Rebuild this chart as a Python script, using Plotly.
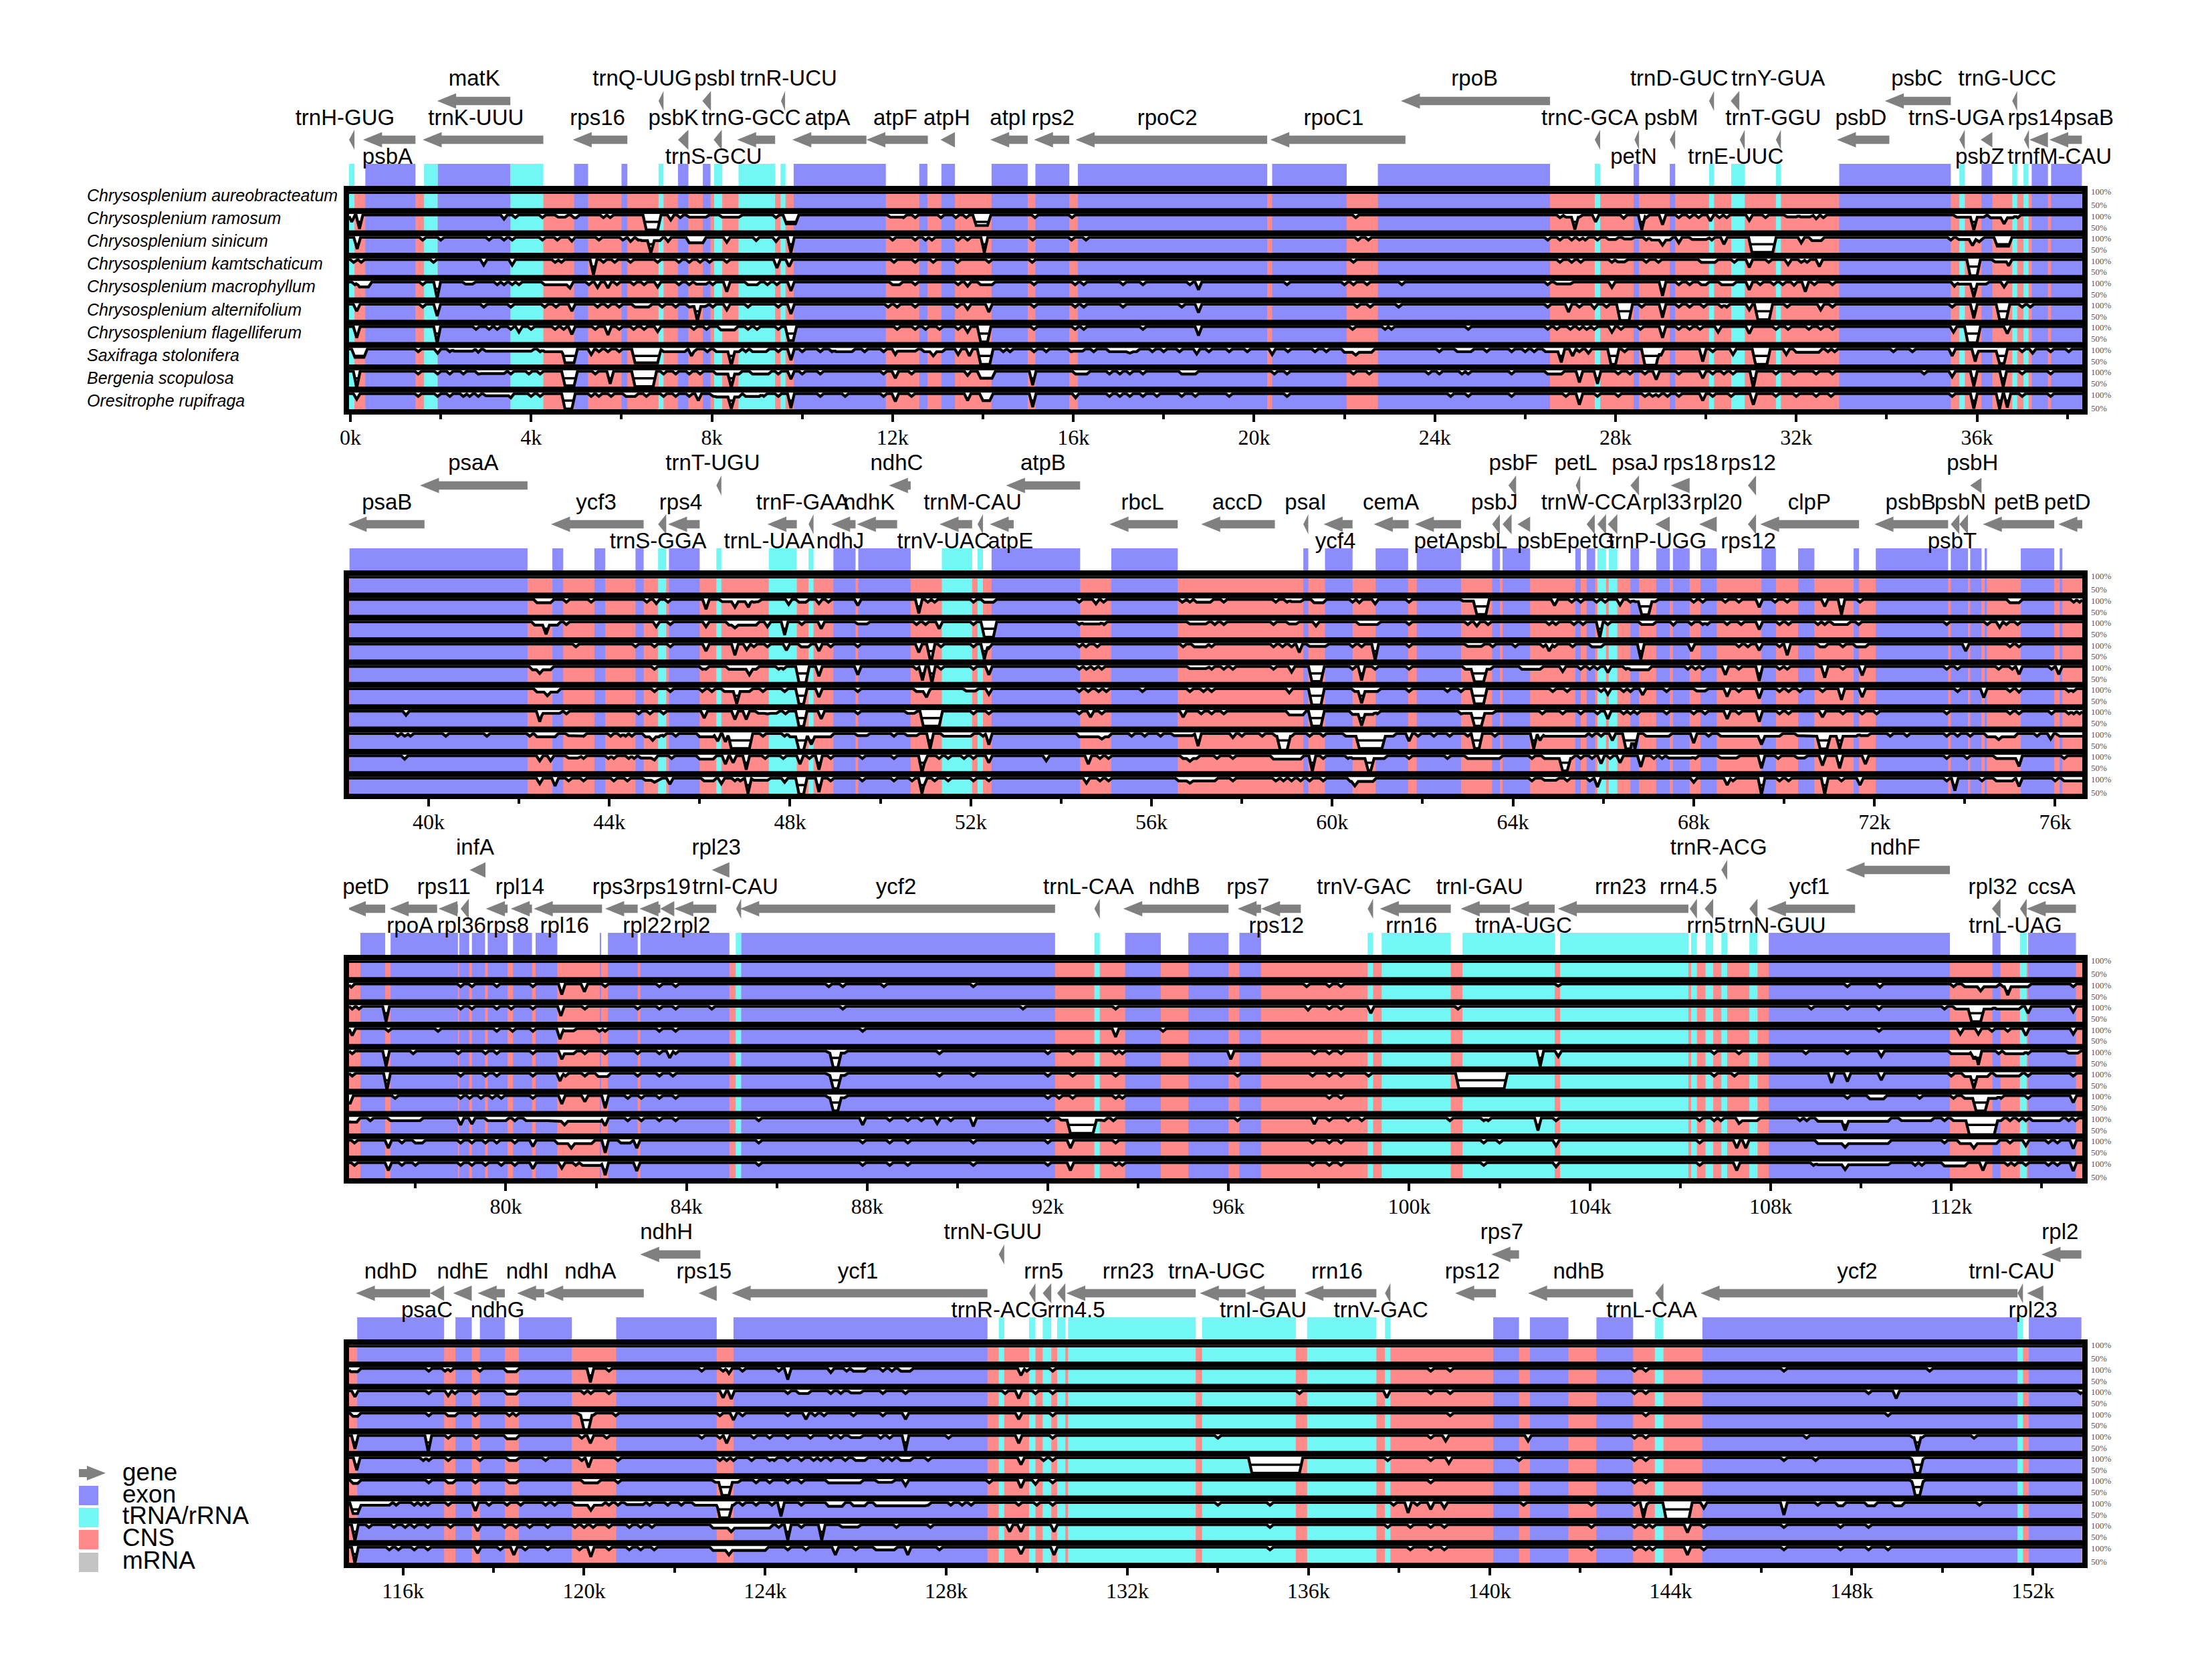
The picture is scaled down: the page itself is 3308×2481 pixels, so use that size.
import numpy as np
import plotly.graph_objects as go

SPECIES = [
    "Chrysosplenium aureobracteatum", "Chrysosplenium ramosum", "Chrysosplenium sinicum",
    "Chrysosplenium kamtschaticum", "Chrysosplenium macrophyllum", "Chrysosplenium alternifolium",
    "Chrysosplenium flagelliferum", "Saxifraga stolonifera", "Bergenia scopulosa", "Oresitrophe rupifraga",
]

# x limits of each panel, kb
P_RANGE = [(-0.03, 38.33), (38.24, 76.6), (76.53, 114.9), (114.81, 153.09)]

MAJOR_TICKS = [list(range(0, 37, 4)), list(range(40, 77, 4)), list(range(80, 113, 4)), list(range(116, 153, 4))]
MINOR_TICKS = [list(range(2, 39, 4)), list(range(42, 75, 4)), list(range(78, 115, 4)), list(range(114, 152, 4))[1:]]

# coding regions (kb)
P1_EXON = [(0.33, 1.44), (1.93, 3.54), (4.95, 5.26), (6.0, 6.13), (7.25, 7.48), (7.8, 7.97), (9.81, 11.85),
           (12.59, 12.77), (13.08, 13.38), (14.19, 14.99), (15.16, 15.91), (16.1, 20.29), (20.4, 22.05),
           (22.74, 26.55), (28.4, 28.52), (29.2, 29.32), (32.95, 35.42), (36.1, 36.34), (37.21, 37.57), (37.64, 38.32)]
P1_RNA = [(-0.03, 0.09), (1.63, 1.93), (3.54, 4.27), (6.82, 6.93), (8.05, 8.23), (8.59, 9.4), (9.52, 9.63),
          (27.54, 27.66), (30.07, 30.18), (30.56, 30.86), (31.55, 31.66), (35.61, 35.73), (36.78, 36.89), (37.03, 37.14)]
P2_EXON = [(38.25, 42.19), (42.74, 42.98), (43.67, 43.91), (44.58, 44.76), (45.32, 46.0), (48.96, 49.45), (49.51, 50.67),
           (52.46, 54.42), (55.11, 56.58), (59.36, 59.47), (59.84, 60.45), (60.96, 61.68), (61.87, 62.85), (63.54, 63.71),
           (63.77, 64.38), (65.38, 65.5), (65.63, 65.82), (66.6, 66.79), (67.17, 67.47), (67.54, 67.91), (68.15, 68.51),
           (69.5, 69.82), (70.31, 70.67), (71.54, 71.66), (72.03, 73.63), (73.69, 74.07), (74.12, 74.37), (74.44, 74.49),
           (75.24, 75.98), (76.1, 76.16)]
P2_RNA = [(45.08, 45.26), (46.37, 46.48), (47.53, 48.15), (48.41, 48.52), (51.36, 52.03), (52.15, 52.27), (65.87, 66.06), (66.12, 66.31)]
P3_EXON = [(76.78, 77.33), (77.45, 78.94), (78.97, 79.19), (79.25, 79.54), (79.6, 80.04), (80.16, 80.58), (80.66, 81.14),
           (82.08, 82.11), (82.26, 82.92), (82.98, 84.95), (85.21, 92.16), (93.71, 94.5), (95.11, 96.0), (96.24, 96.72),
           (107.96, 111.97), (112.91, 113.09), (113.7, 114.76)]
P3_RNA = [(85.09, 85.21), (93.03, 93.15), (99.08, 99.2), (99.39, 100.92), (101.18, 103.22), (103.34, 106.18), (106.24, 106.37),
          (106.56, 106.73), (106.91, 107.04), (107.53, 107.71), (113.52, 113.67)]
P4_EXON = [(114.99, 116.91), (117.16, 117.52), (117.7, 118.25), (118.56, 119.73), (120.71, 122.93), (123.3, 128.91),
           (140.08, 140.65), (140.89, 141.74), (142.36, 143.17), (144.7, 151.66), (151.91, 153.07)]
P4_RNA = [(129.16, 129.28), (129.83, 129.97), (130.13, 130.32), (130.45, 130.63), (130.69, 133.51), (133.65, 135.72),
          (135.97, 137.5), (137.69, 137.81), (143.65, 143.84), (151.66, 151.78)]

# gene arrows: name, start, end (kb)
P1_GENES = [("trnH-GUG", -0.03, 0.09), ("psbA", 0.28, 1.44), ("matK", 1.92, 3.54), ("trnK-UUU", 1.6, 4.27), ("rps16", 4.92, 6.13),
            ("trnQ-UUG", 6.82, 6.93), ("psbK", 7.25, 7.48), ("psbI", 7.79, 7.98), ("trnS-GCU", 8.04, 8.22), ("trnR-UCU", 9.53, 9.62),
            ("trnG-GCC", 8.56, 9.4), ("atpA", 9.78, 11.42), ("atpF", 11.42, 12.78), ("atpH", 13.06, 13.38), ("atpI", 14.16, 14.99),
            ("rps2", 15.13, 15.91), ("rpoC2", 16.05, 20.29), ("rpoC1", 20.36, 23.35), ("rpoB", 23.25, 26.55), ("trnC-GCA", 27.54, 27.66),
            ("petN", 28.42, 28.52), ("psbM", 29.2, 29.32), ("trnD-GUC", 30.07, 30.18), ("trnY-GUA", 30.55, 30.74), ("trnE-UUC", 30.75, 30.86),
            ("trnT-GGU", 31.55, 31.66), ("psbD", 32.9, 34.06), ("psbC", 33.96, 35.42), ("trnS-UGA", 35.61, 35.73), ("psbZ", 36.08, 36.34),
            ("trnG-UCC", 36.78, 36.89), ("trnfM-CAU", 37.04, 37.15), ("rps14", 37.16, 37.57), ("psaB", 37.6, 38.32)]
# arrow track (0 upper, 1 lower), label x (kb), label row
P1_PLACE = [(1, -0.12, 1), (1, 0.82, 2), (0, 2.74, 0), (1, 2.78, 1), (1, 5.47, 1), (0, 6.46, 0), (1, 7.15, 1), (0, 8.07, 0), (1, 8.04, 2),
            (0, 9.7, 0), (1, 8.87, 1), (1, 10.56, 1), (1, 12.06, 1), (1, 13.2, 1), (1, 14.56, 1), (1, 15.55, 1), (1, 18.08, 1), (1, 21.76, 1),
            (0, 24.88, 0), (1, 27.43, 1), (1, 28.4, 2), (1, 29.23, 1), (0, 29.41, 0), (0, 31.6, 0), (1, 30.66, 2), (1, 31.49, 1), (1, 33.43, 1),
            (0, 34.67, 0), (1, 35.54, 1), (1, 36.06, 2), (0, 36.67, 0), (1, 37.83, 2), (1, 37.29, 1), (1, 38.47, 1)]
P2_GENES = [("psaB", 38.21, 39.91), ("psaA", 39.81, 42.19), ("ycf3", 42.71, 44.76), ("trnS-GGA", 45.08, 45.26), ("rps4", 45.3, 46.0),
            ("trnT-UGU", 46.37, 46.48), ("trnL-UAA", 47.5, 48.15), ("trnF-GAA", 48.41, 48.52), ("ndhJ", 48.91, 49.45), ("ndhK", 49.48, 50.37),
            ("ndhC", 50.19, 50.67), ("trnV-UAC", 51.31, 52.03), ("trnM-CAU", 52.15, 52.27), ("atpE", 52.42, 52.95), ("atpB", 52.78, 54.42),
            ("rbcL", 55.07, 56.58), ("accD", 57.1, 58.73), ("psaI", 59.36, 59.47), ("ycf4", 59.81, 60.45), ("cemA", 60.92, 61.69),
            ("petA", 61.83, 62.85), ("psbJ", 63.54, 63.71), ("psbL", 63.77, 63.97), ("psbF", 63.9, 64.07), ("psbE", 64.1, 64.38),
            ("petL", 65.39, 65.49), ("trnW-CCA", 65.63, 65.81), ("petG", 65.87, 66.06), ("trnP-UGG", 66.1, 66.31), ("psaJ", 66.6, 66.79),
            ("rpl33", 67.15, 67.47), ("rps18", 67.49, 67.91), ("rpl20", 68.12, 68.51), ("rps12", 69.2, 69.38), ("rps12", 69.2, 69.38),
            ("clpP", 69.47, 71.66), ("psbB", 72.0, 73.63), ("psbT", 73.69, 73.88), ("psbN", 73.88, 74.07), ("psbH", 74.12, 74.37),
            ("petB", 74.4, 75.98), ("petD", 76.07, 76.6)]
P2_PLACE = [(1, 39.08, 1), (0, 40.99, 0), (1, 43.71, 1), (1, 45.08, 2), (1, 45.58, 1), (0, 46.29, 0), (1, 47.54, 2), (1, 48.28, 1), (1, 49.11, 2),
            (1, 49.75, 1), (0, 50.36, 0), (1, 51.4, 2), (1, 52.04, 1), (1, 52.88, 2), (0, 53.6, 0), (1, 55.8, 1), (1, 57.9, 1), (1, 59.41, 1),
            (1, 60.07, 2), (1, 61.3, 1), (1, 62.31, 2), (1, 63.59, 1), (1, 63.35, 2), (0, 64.01, 0), (1, 64.65, 2), (0, 65.39, 0), (1, 65.73, 1),
            (1, 65.73, 2), (1, 67.2, 2), (0, 66.7, 0), (1, 67.41, 1), (0, 67.93, 0), (1, 68.53, 1), (0, 69.21, 0), (1, 69.21, 2), (1, 70.56, 1),
            (1, 72.8, 1), (1, 73.72, 2), (1, 73.9, 1), (0, 74.17, 0), (1, 75.15, 1), (1, 76.27, 1)]
P3_GENES = [("petD", 76.48, 77.33), ("rpoA", 77.43, 78.48), ("rps11", 78.51, 78.94), ("rpl36", 79.0, 79.18), ("infA", 79.2, 79.55),
            ("rps8", 79.56, 80.04), ("rpl14", 80.11, 80.58), ("rpl16", 80.62, 82.13), ("rps3", 82.2, 82.92), ("rpl22", 82.96, 83.42),
            ("rps19", 83.42, 83.73), ("rpl2", 83.73, 84.66), ("rpl23", 84.56, 84.95), ("trnI-CAU", 85.1, 85.21), ("ycf2", 85.19, 92.16),
            ("trnL-CAA", 93.03, 93.15), ("ndhB", 93.67, 96.0), ("rps7", 96.2, 96.72), ("rps12", 96.72, 97.6), ("trnV-GAC", 99.08, 99.2),
            ("rrn16", 99.35, 100.92), ("trnI-GAU", 101.14, 102.23), ("trnA-UGC", 102.23, 103.22), ("rrn23", 103.29, 106.18),
            ("rrn4.5", 106.21, 106.37), ("rrn5", 106.54, 106.73), ("trnR-ACG", 106.91, 107.04), ("trnN-GUU", 107.53, 107.71),
            ("ycf1", 107.92, 109.87), ("ndhF", 109.66, 111.97), ("rpl32", 112.9, 113.09), ("trnL-UAG", 113.52, 113.67), ("ccsA", 113.67, 114.76)]
P3_PLACE = [(1, 76.9, 1), (1, 77.88, 2), (1, 78.63, 1), (1, 79.02, 2), (0, 79.32, 0), (1, 80.04, 2), (1, 80.31, 1), (1, 81.3, 2), (1, 82.39, 1),
            (1, 83.13, 2), (1, 83.48, 1), (1, 84.12, 2), (0, 84.66, 0), (1, 85.08, 1), (1, 88.64, 1), (1, 92.9, 1), (1, 94.8, 1), (1, 96.43, 1),
            (1, 97.06, 2), (1, 99.0, 1), (1, 100.05, 2), (1, 101.56, 1), (1, 102.53, 2), (1, 104.68, 1), (1, 106.18, 1), (1, 106.58, 2),
            (0, 106.85, 0), (1, 108.14, 2), (1, 108.86, 1), (0, 110.76, 0), (1, 112.92, 1), (1, 113.42, 2), (1, 114.22, 1)]
P4_GENES = [("ndhD", 114.96, 116.6), ("psaC", 116.6, 116.91), ("ndhE", 117.11, 117.52), ("ndhG", 117.65, 118.25), ("ndhI", 118.52, 119.12),
            ("ndhA", 119.12, 121.32), ("ndhH", 121.24, 122.57), ("rps15", 122.53, 122.93), ("ycf1", 123.26, 128.91), ("trnN-GUU", 129.16, 129.28),
            ("trnR-ACG", 129.83, 129.97), ("rrn5", 130.13, 130.32), ("rrn4.5", 130.45, 130.63), ("rrn23", 130.65, 133.51), ("trnA-UGC", 133.6, 134.61),
            ("trnI-GAU", 134.61, 135.72), ("rrn16", 135.91, 137.5), ("trnV-GAC", 137.69, 137.81), ("rps12", 139.24, 140.14), ("rps7", 140.04, 140.65),
            ("ndhB", 140.85, 143.17), ("trnL-CAA", 143.66, 143.84), ("ycf2", 144.66, 151.66), ("trnI-CAU", 151.66, 151.78), ("rpl23", 151.87, 152.23),
            ("rpl2", 152.19, 153.07)]
P4_PLACE = [(1, 115.73, 1), (1, 116.53, 2), (1, 117.32, 1), (1, 118.09, 2), (1, 118.75, 1), (1, 120.14, 1), (0, 121.82, 0), (1, 122.65, 1), (1, 126.05, 1),
            (0, 129.03, 0), (1, 129.18, 2), (1, 130.15, 1), (1, 130.87, 2), (1, 132.02, 1), (1, 133.97, 1), (1, 135.0, 2), (1, 136.63, 1), (1, 137.6, 2),
            (1, 139.62, 1), (0, 140.27, 0), (1, 141.97, 1), (1, 143.58, 2), (1, 148.12, 1), (1, 151.53, 1), (1, 152.0, 2), (0, 152.6, 0)]

# identity dips: x = small dip to 90%, (x, p) = dip to p%, (a, b, p) = flat stretch at p%
P1_RAMOSUM = [(0.03, 75), (0.2, 50), (3.4, 85), 3.65, 4.25, (4.6, 4.75, 92), (4.95, 5.0, 90), 5.6, 5.75, (6.55, 6.8, 46), (7.09, 82), 7.3, (7.5, 7.87, 92), (8.23, 8.6, 92),
              9.42, (9.65, 9.85, 68), (11.95, 12.15, 92), 12.24, 12.5, 13.07, 13.4, 13.63, (13.85, 14.1, 62), 15.15, 15.97, 22.25, 26.77, (26.9, 27.2, 92), (27.1, 48), (27.56, 75),
              (28.18, 88), (28.58, 46), 28.68, (29.04, 65), 29.4, 29.64, 29.84, (30.1, 78), 30.3, 30.46, (30.96, 80), 31.32, (31.8, 32.0, 93), (32.1, 32.3, 93), (32.44, 86), 32.6,
              (35.93, 46), (35.55, 36.15, 92), (36.3, 36.8, 90), (36.6, 68), 36.9]
P1_SINICUM = [(0.15, 58), 1.6, 2.0, 3.07, 3.4, 3.58, 4.25, 4.58, (4.9, 86), 5.5, 6.03, (6.2, 85), 6.37, (6.65, 44), (6.45, 6.85, 88), (7.03, 85), (7.5, 7.8, 80), (8.33, 82), (8.98, 88), (9.42, 85),
              (9.75, 45), 12.0, 12.5, 12.73, 12.87, 13.45, 13.66, (14.03, 45), 15.1, 15.96, 16.28, 22.3, 22.53, 26.5, 26.77, 27.03, 27.2, 27.33, 27.6, (27.85, 28.0, 92), (28.2, 28.35, 94),
              28.68, (29.04, 72), (28.8, 29.2, 90), (29.4, 80), (29.7, 30.0, 92), 30.13, (30.4, 75), (31.02, 31.48, 46), (32.11, 80), (32.35, 32.55, 88), 35.42, (35.9, 70), (35.6, 36.1, 92), (36.05, 84), (36.45, 36.7, 68)]
P1_KAMTSCHATICUM = [0.07, 0.24, 1.84, (2.95, 80), (3.58, 80), 4.53, 4.67, (5.38, 46), 5.6, 5.85, 6.2, 6.8, 7.27, 7.5, 7.74, 7.95, 8.33, (9.44, 70), (9.71, 75), 12.03, 12.5, 12.9, 13.44,
                    14.13, 15.09, 22.2, 26.77, 27.03, 27.23, 27.92, (28.05, 28.2, 92), 28.68, 28.95, (29.9, 30.2, 90), 30.63, (30.96, 72), 31.39, (31.82, 82), 32.11, 32.24, (32.51, 75),
                    (35.85, 36.0, 42), (36.7, 78), (36.4, 36.65, 92)]
P1_MACROPHYLLUM = [0.1, (0.2, 0.4, 82), 1.6, (1.92, 40), (2.55, 2.7, 92), 3.25, 3.4, 3.58, 3.73, (4.3, 4.85, 90), (4.86, 78), 5.28, (5.47, 80), (5.7, 78), 5.9, 6.27, 6.5, (6.8, 82), 7.27, 7.5, (7.66, 7.87, 92),
                   8.02, (8.33, 65), (8.8, 9.0, 90), 9.23, 9.44, (9.75, 68), (12.0, 12.15, 90), 12.5, 13.45, (13.66, 85), (13.95, 14.2, 90), 15.13, 16.04, 16.23, 17.1, 17.54, 18.58, (18.77, 72), 20.73,
                   22.0, 22.2, 22.5, 23.27, 26.5, (26.7, 27.0, 93), (27.92, 80), (29.04, 50), 29.4, 29.64, (29.9, 30.0, 90), (30.35, 30.6, 90), (30.96, 72), 31.2, 31.5, 31.7, (31.95, 88), (32.2, 65), 32.4, 32.8,
                   (35.5, 85), (35.93, 46), (35.6, 36.2, 92), (36.6, 82)]
P1_ALTERNIFOLIUM = [(0.14, 75), 1.6, (1.92, 58), 2.95, 3.55, 4.3, 4.55, (4.9, 75), 5.47, 5.7, 5.95, (6.3, 6.6, 90), 6.9, 7.2, 7.5, (7.68, 40), (7.5, 7.85, 92), 8.02, (8.33, 80), 8.8, 9.47, (9.75, 65), 11.9, 12.1, 12.5,
                    13.43, (13.66, 82), (14.13, 72), 15.13, 16.04, 16.23, 17.1, 18.4, (18.77, 70), 22.28, 22.57, 23.2, 26.5, (26.96, 72), 27.2, (27.53, 85), 27.8, (28.1, 28.3, 42), 28.58, (29.04, 52),
                    29.4, 29.64, 29.95, 30.35, 30.46, (31.15, 31.4, 45), (30.96, 80), 31.8, (32.54, 80), 32.8, 35.45, (35.93, 50), (36.5, 36.65, 45), 37.0, 37.18]
P1_FLAGELLIFERUM = [(0.14, 60), (1.92, 40), 2.78, 3.07, 3.25, 3.55, (3.73, 80), 4.0, 4.53, 4.72, (4.9, 72), 5.42, (5.7, 70), 5.95, 6.27, 6.5, (6.8, 82), 7.6, 7.88, 8.25, (8.2, 8.5, 88), 8.8, 9.0, 9.47, (9.7, 9.8, 50),
                    12.1, 12.5, 12.73, 13.04, 13.45, (13.66, 80), (13.95, 14.1, 45), 15.13, 16.04, 16.23, 17.54, (18.77, 68), 22.18, 22.9, 23.04, 24.74, 26.5, 26.7, 27.0, 27.2, 27.36, 27.53,
                    (27.92, 80), 28.12, 28.55, (29.04, 60), 29.4, 29.64, 29.87, (30.27, 80), (30.96, 75), 31.55, 31.82, 32.28, 32.54, 32.8, (35.48, 80), (35.8, 36.0, 42), (36.67, 75)]
P1_SAXIFRAGA = [(0.1, 0.3, 70), 1.5, (1.93, 85), 2.2, (2.3, 2.7, 92), (2.83, 88), (3.0, 3.6, 92), (3.6, 4.0, 92), 4.2, (4.3, 4.7, 90), (4.75, 4.95, 50), (5.33, 80), 5.5, 5.7, 5.95, (6.3, 6.8, 50), 6.93, (7.0, 7.4, 90), 7.6, 7.9,
                (7.55, 75), (8.1, 8.6, 90), (8.43, 40), 8.75, (8.9, 9.2, 90), 9.47, (9.75, 60), 10.0, 10.4, 10.66, (10.75, 11.1, 90), 11.38, 11.8, (12.06, 80), (12.1, 12.5, 92), (12.7, 13.1, 90), (12.9, 75), (13.45, 80), (13.7, 75),
                (13.95, 14.15, 45), 14.45, 14.6, 15.13, 15.4, 15.95, (16.0, 16.2, 92), 16.45, (16.8, 17.4, 90), (17.25, 85), 17.75, 18.0, 18.35, (18.73, 82), 19.0, 19.45, 19.85, (20.4, 80), 20.75, 21.35, 21.6, 22.0, (22.0, 22.6, 88), (22.25, 78),
                24.1, (24.5, 24.8, 90), 25.15, 25.7, 26.0, 26.2, (26.45, 26.8, 90), (26.8, 52), (27.05, 75), 27.2, (27.4, 85), (27.9, 28.0, 45), 28.2, (28.65, 28.9, 42), (29.0, 75), (29.93, 55), 30.15, (30.6, 80), (31.1, 31.35, 45),
                (31.78, 80), (32.0, 32.5, 88), 32.7, 32.85, 34.15, 34.57, (35.45, 75), (35.96, 55), (36.0, 36.5, 92), (36.5, 36.6, 48), 37.0, (37.23, 85), 37.63, 38.03]
P1_BERGENIA = [(0.14, 40), 1.5, 1.93, 2.2, 2.5, 2.83, (2.9, 3.4, 92), 3.55, 3.95, 4.2, (4.75, 4.95, 48), 5.42, (5.75, 55), (6.3, 6.7, 45), 6.93, 7.2, 7.5, 7.74, (8.1, 8.6, 90), (8.43, 42), (8.9, 9.25, 90), 9.47, (9.75, 72), 10.0, 10.4,
               11.8, (12.06, 75), 12.42, (13.66, 85), (13.95, 14.2, 75), (15.1, 50), (16.05, 16.3, 90), 16.8, 17.03, 17.25, 17.54, 18.4, (18.45, 18.7, 90), 20.45, 20.73, 22.2, 22.55, 23.86, 24.1, 24.6, 24.74, 25.7,
               (26.5, 26.8, 90), 26.8, (27.2, 60), (27.6, 55), 28.06, 28.32, 28.65, (28.9, 70), 29.4, (29.93, 75), 30.15, 30.4, 30.6, (31.05, 40), 31.55, 31.95, 32.44, 32.8, 34.83, (35.45, 80), (35.93, 46), (36.58, 45), 37.0, 37.63]
P1_ORESITROPHE = [(0.14, 80), 1.5, 1.93, 2.2, 2.5, 2.64, 2.83, (3.0, 3.5, 92), (3.55, 85), 4.0, 4.2, (4.75, 4.9, 45), 5.33, 5.5, 5.77, (6.1, 6.3, 90), 6.55, 6.93, 7.2, (7.7, 75), 7.5, 8.02, (8.1, 8.6, 88), (8.43, 46), 9.15, (8.75, 9.05, 90), 9.47,
                  (9.75, 48), 10.4, 10.95, 11.8, (12.06, 72), 12.42, (13.66, 75), (14.0, 14.15, 75), (15.1, 52), (16.05, 85), 16.8, 17.03, 17.25, 17.54, 17.85, 18.4, 18.7, 19.45, 20.73, 24.35, 24.74, 25.7, 26.9, (27.2, 60),
                  27.6, 28.06, 28.65, 28.82, 28.95, 29.15, 29.4, (29.93, 75), 30.15, 30.56, (31.05, 60), 31.55, 32.0, 32.44, 32.77, 35.45, (35.93, 46), (36.5, 45), (36.67, 50), 37.0, 37.63]

P2_RAMOSUM = [(42.4, 42.7, 88), 43.05, 43.6, 44.83, (45.04, 85), 45.3, (46.14, 65), (46.5, 47.3, 92), (46.78, 72), (47.08, 72), 47.2, (47.97, 82), (48.2, 48.35, 90), (48.64, 85), 48.85, (49.5, 78), (50.85, 50), 51.05, 51.2, 52.06, (52.3, 52.5, 90),
              54.4, (54.77, 84), 54.94, 56.68, 56.85, (57.0, 57.3, 90), 57.6, 58.75, 59.0, (59.1, 59.3, 92), (59.6, 59.8, 88), 60.45, (60.6, 88), (60.95, 84), 61.7, (62.9, 63.2, 94), (63.2, 63.4, 46),
              (64.92, 78), 65.3, 65.5, 65.85, 66.04, (66.37, 80), 66.6, (66.85, 67.0, 45), (66.7, 67.15, 92), 68.0, 68.2, 68.7, 69.0, (69.45, 72), 69.8, 70.07, (70.9, 75), (71.27, 45), 71.68, (75.0, 75.2, 88), 76.41, 76.54]
P2_SINICUM = [(42.6, 55), (42.35, 42.85, 88), 43.05, (45.04, 82), 45.35, (46.14, 82), (46.65, 47.25, 88), (46.78, 78), (47.5, 82), (47.88, 52), 48.26, (48.69, 75), (49.5, 49.7, 92), 50.8, 51.0, (51.3, 75), 52.06, (52.3, 52.5, 45), 54.4,
              (54.5, 54.85, 92), 54.95, (56.85, 57.2, 92), 57.4, 57.6, 58.7, (59.05, 59.2, 92), (59.64, 85), (60.6, 61.0, 90), 61.7, 63.0, (63.2, 85), 63.45, 64.8, 64.95, 65.35, 65.55, (65.92, 42), 66.1, (66.85, 67.1, 90),
              (67.55, 88), 67.95, 68.2, 68.3, 68.74, 69.05, (69.45, 72), 69.9, 70.1, 70.75, 70.9, (71.1, 71.4, 90), 71.65, 73.6, 74.5, (74.77, 80), 74.92, 75.17]
P2_KAMTSCHATICUM = [43.26, 44.58, 45.0, 45.35, (46.14, 75), (46.78, 60), (47.04, 80), 47.2, 47.5, (47.92, 78), (48.25, 48.4, 90), (48.64, 75), 48.9, 49.5, (50.85, 70), (51.1, 45), (51.13, 40), 51.34, 52.06, (52.3, 45), (52.4, 85), 54.4, 54.55, 54.8,
                    56.7, (56.95, 57.2, 90), 57.33, 58.7, 58.9, 59.1, (59.27, 70), (59.5, 59.85, 92), 60.45, 60.65, (60.95, 42), 61.7, (63.0, 63.3, 92), 63.55, 64.05, 64.67, (64.8, 75), 64.92, 65.32, (65.75, 65.95, 90), (66.83, 45), (67.95, 75),
                    69.0, 69.2, (69.45, 78), 69.9, (70.07, 60), (70.8, 70.9, 90), 71.3, (71.6, 71.8, 90), (74.02, 75), 75.0, 75.2]
P2_MACROPHYLLUM = [(42.46, 75), (42.3, 42.7, 88), 45.0, 46.06, 46.14, (46.65, 47.25, 90), (47.1, 70), 47.75, 47.85, (48.2, 48.35, 42), (48.64, 65), (49.5, 70), 50.8, (50.93, 50), (51.14, 40), 51.34, 52.06, (52.4, 70), 54.4, 54.56, 54.73, 54.9,
                   (56.85, 57.2, 92), 57.33, 57.6, 57.8, 58.7, (59.1, 80), (59.55, 59.75, 46), 60.45, (60.65, 50), 60.95, 61.7, (63.15, 63.35, 45), (62.95, 63.5, 90), (64.2, 64.6, 90), (65.1, 82), 65.5, 65.7, 65.87, (66.1, 78), 66.5,
                   (66.6, 67.0, 88), 67.87, 68.04, 68.2, (68.7, 70), 69.0, (69.45, 48), 69.9, 70.07, (70.9, 60), 71.3, (71.73, 68), 73.6, 73.84, 74.75, 75.05, (75.2, 72), 75.92, (76.08, 72)]
P2_ALTERNIFOLIUM = [(42.63, 75), (42.4, 42.85, 88), 45.0, 45.35, 46.06, 46.27, (46.82, 46), (46.55, 47.1, 90), 47.4, 47.88, (48.2, 48.3, 45), (48.64, 70), 49.5, (50.8, 51.05, 90), (51.02, 70), (51.9, 52.1, 92), (52.4, 80), 54.4, 54.6, 54.83, 55.0, 55.8,
                    56.85, 57.15, 57.33, (59.05, 85), (59.55, 59.75, 42), (60.65, 48), (60.5, 61.0, 90), 61.0, 61.7, 62.55, 62.85, (63.15, 63.35, 46), 64.88, 65.2, 65.95, (66.1, 80), 66.45, 66.6, (66.87, 78), 67.4, (68.07, 68.25, 92),
                    (68.74, 72), 69.0, (69.45, 65), 69.9, 70.1, 70.35, 70.85, (71.27, 60), (71.73, 70), 73.84, (74.42, 68), 75.0, (75.2, 88), 76.3, 76.4]
P2_FLAGELLIFERUM = [(39.5, 85), (42.46, 62), (42.5, 42.9, 92), 43.05, 44.65, 44.9, 45.2, (46.1, 75), (46.78, 70), (47.03, 70), (47.3, 47.7, 92), 47.5, 47.9, (48.2, 48.3, 45), (48.69, 72), 49.5, (50.6, 50.75, 92), (50.95, 51.3, 46), 52.06, 52.4, 54.4,
                    (54.65, 78), 54.9, (56.7, 78), 57.1, 57.33, 57.6, (59.05, 59.35, 86), (59.55, 59.75, 46), (60.65, 48), (60.45, 60.9, 88), 61.0, 62.85, (63.15, 63.3, 46), (62.9, 63.55, 92), 64.65, 65.1, 65.5, 65.87, (66.1, 72), 66.45,
                    66.6, 66.75, 67.4, 68.0, 68.25, (68.74, 72), 69.0, (69.45, 62), 69.9, 70.1, (70.85, 78), 71.3, 71.73, 72.05, 73.6, 75.0, 75.2, 75.92, 76.3, 76.41, 76.54]
P2_SAXIFRAGA = [39.32, 39.47, 39.6, 40.38, 41.29, 42.24, (42.4, 42.8, 88), (43.1, 43.35, 92), 43.43, 44.03, 44.25, 44.36, 44.5, (44.8, 45.1, 88), (44.96, 75), 45.2, 45.47, (46.0, 46.3, 88), (46.4, 72), (46.57, 70), (46.7, 47.1, 46), 47.4, 47.88,
                (48.0, 48.9, 88), (48.2, 48.3, 40), (48.47, 60), 48.7, (49.5, 49.7, 92), 50.3, (50.6, 50.8, 92), (51.1, 50), (51.1, 45), (51.4, 52.0, 90), 52.27, (52.4, 60), (54.4, 55.05, 88), (54.9, 80), 55.56, 55.85, 56.2, (56.5, 56.9, 92), (57.03, 55),
                (57.8, 85), 58.0, 58.45, (58.85, 59.0, 40), (58.75, 59.1, 90), 59.5, 59.8, (60.6, 61.1, 46), (60.3, 61.3, 90), 61.35, (61.7, 72), 61.9, 62.25, 62.6, 63.0, (63.15, 63.25, 46), 63.6, (64.46, 45), (64.6, 75), (64.7, 65.6, 90),
                65.75, 65.95, (66.2, 75), (66.5, 66.6, 45), (66.7, 45), (66.95, 67.45, 90), (68.0, 65), 68.33, (68.6, 69.9, 90), 69.15, (69.5, 60), 69.9, (70.3, 70.45, 92), (70.8, 70.95, 45), (71.23, 45), (70.5, 71.6, 90), 71.55, (71.7, 71.85, 92), 72.35, 72.72,
                73.6, 73.84, 74.12, 74.5, (74.75, 78), (74.5, 75.1, 88), 75.6, (75.9, 80), 76.08, (76.1, 76.6, 90)]
P2_BERGENIA = [(39.47, 88), (42.46, 82), (42.7, 82), (43.1, 43.3, 92), 43.43, 43.98, 44.1, 44.43, 44.55, (44.7, 45.0, 92), (45.0, 85), 45.38, (46.0, 46.3, 88), (46.57, 70), (46.74, 75), (47.03, 50), 47.45, 47.85, (48.22, 70), 48.43, (48.64, 50), 48.9, 49.6, 50.3,
               (50.97, 72), (50.92, 40), 51.3, 51.5, 51.85, 52.06, (52.4, 75), (53.67, 82), (54.6, 70), 54.86, 55.05, (56.7, 57.0, 90), (56.85, 80), 57.45, 57.8, (58.7, 59.3, 88), 59.1, (59.56, 45), 59.8, 60.35, (60.8, 60.85, 45), (60.45, 61.15, 90), 61.7, 62.55, (63.0, 63.7, 90),
               64.42, (64.7, 65.3, 90), (65.1, 65.2, 46), 65.5, 65.75, (65.95, 72), 66.15, (66.37, 75), (66.83, 60), 67.12, 67.3, (67.45, 67.95, 92), 68.04, (68.6, 68.95, 92), (69.5, 55), 69.87, (70.3, 70.45, 92), (70.85, 65), (71.23, 55), (71.8, 70), 73.6, 74.05, (74.7, 75.2, 90), (75.2, 62), 76.2]
P2_ORESITROPHE = [(42.46, 80), (42.8, 72), 43.1, 43.43, 44.1, 44.4, (44.8, 45.1, 92), (45.0, 85), (45.34, 78), (46.1, 46.3, 90), (46.48, 80), 46.78, 46.9, (47.07, 45), (47.2, 47.5, 92), (47.88, 85), (48.2, 48.3, 42), (48.64, 50), 48.9, 49.6, 50.3, 50.7,
                  (50.96, 72), (50.92, 45), 51.2, 51.5, 52.06, 52.4, (54.56, 82), 54.86, 55.05, (56.6, 57.4, 90), (56.85, 82), 57.8, 58.75, 58.92, 59.1, 59.3, 59.5, 59.8, (60.5, 72), (60.4, 60.9, 88), 64.42, (64.7, 64.95, 92), 65.2, 65.7, (65.87, 68), (68.0, 85), (68.74, 75),
                  68.87, (69.5, 40), 69.9, 70.1, (70.9, 42), 71.27, (71.68, 75), 73.6, (73.78, 55), 74.38, (74.7, 75.05, 90), 75.0, (75.2, 70), 76.0, (76.2, 76.6, 90)]

P3_RAMOSUM = [(76.58, 88), 79.0, 79.25, 79.8, 80.6, (81.24, 62), (81.74, 72), 82.2, 83.4, 83.76, 87.15, 87.46, 88.37, 90.35, 97.73, 98.23, 98.49, (103.3, 92), 109.7, (110.42, 88), 112.05, (112.3, 113.0, 90), (112.65, 75), (113.25, 60),
              (113.15, 113.7, 90), 113.7, 114.7]
P3_SINICUM = [76.6, 76.75, (77.35, 45), 79.0, 79.25, 79.8, 80.12, 80.6, (81.22, 65), 81.75, 82.92, 83.4, 83.76, 84.56, 87.46, 91.45, 93.5, (97.76, 86), 98.23, 98.49, (99.15, 75), 101.08, 108.9, 109.7, (110.4, 88), 111.85, 112.25,
              (112.45, 112.65, 45), (112.1, 112.9, 90), (113.0, 113.5, 90), (113.7, 75), (114.7, 80)]
P3_KAMTSCHATICUM = [(76.6, 75), 77.4, 78.5, 79.8, 80.15, 80.6, (81.2, 62), (81.3, 81.5, 92), 82.07, 82.2, 83.4, 83.76, 87.9, (93.5, 70), 94.55, 110.4, (112.2, 80), (112.6, 80), 112.9, 113.25, (113.65, 75), (114.7, 80)]
P3_MACROPHYLLUM = [76.6, (77.35, 45), 77.95, 78.95, 79.55, 79.8, 80.6, (81.24, 70), (81.3, 81.5, 90), 81.75, 82.2, 82.92, 83.4, (83.63, 75), 83.76, (87.25, 87.35, 40), (87.15, 87.5, 92), 89.6, 92.0, 92.55, 93.5, 93.65, (96.05, 70), 97.9, 98.23, 98.49,
                   (102.9, 45), (103.3, 80), 106.75, (107.3, 90), 108.78, 109.7, (110.45, 80), (112.0, 112.4, 90), (112.6, 50), (112.5, 70), 113.05, (113.2, 113.6, 90), 113.7, (114.6, 114.8, 92)]
P3_ALTERNIFOLIUM = [76.6, (77.37, 40), 79.0, 79.55, 79.8, 80.6, (81.2, 72), 81.32, 81.75, (82.05, 82.25, 88), 82.92, 83.4, 83.7, (87.25, 87.35, 45), (87.15, 87.5, 92), 89.6, 90.35, 92.0, 92.55, 93.5, 96.2, 97.86, 98.23, 98.49, 99.1,
                    (101.1, 102.1, 45), 106.75, 107.2, (109.35, 65), (109.7, 70), (110.45, 75), 112.0, (112.3, 112.8, 88), (112.5, 45), (113.0, 113.5, 90), 113.7, 114.7]
P3_FLAGELLIFERUM = [(76.55, 70), 77.55, 79.0, 79.2, 79.45, 79.7, 79.9, 80.6, (81.24, 70), (81.75, 78), (82.2, 55), 82.7, 83.0, 83.4, 83.76, (87.25, 87.35, 45), (87.15, 87.5, 92), 92.0, 92.25, 92.55, 93.5, 93.65, 98.23, 98.49, 109.7,
                    (110.2, 110.5, 88), 111.3, 112.05, 112.4, (112.55, 112.75, 45), (112.3, 113.0, 90), 113.1, 113.7, (114.7, 75)]
P3_SAXIFRAGA = [(76.55, 76.7, 85), 77.0, 77.45, (77.5, 78.1, 90), (79.0, 75), (79.25, 78), (79.6, 80.0, 90), 80.2, (80.45, 80.95, 90), (81.0, 82.1, 88), (81.3, 75), 81.9, (82.2, 72), 82.7, 83.0, 83.4, 83.76, 85.6, (87.9, 75), 88.5, 88.9, 89.2, (89.55, 80), 89.85,
                (90.35, 70), 92.0, (92.5, 93.0, 45), (92.3, 93.2, 92), 93.25, 93.45, 96.2, (97.9, 78), 98.23, 98.65, 98.95, 100.9, 101.65, 101.75, (102.85, 55), 103.25, 106.43, 106.75, 106.9, (107.3, 80), (107.3, 107.7, 90), 108.65, 108.8, (109.05, 110.6, 88),
                (109.65, 55), 110.2, 110.45, (110.9, 111.55, 90), 111.85, (112.4, 112.95, 40), (112.05, 113.1, 90), 113.3, 113.5, 113.65, (113.8, 114.4, 90), 114.6, 114.75]
P3_BERGENIA = [76.65, (77.4, 72), 77.7, (78.0, 78.15, 90), 79.0, 79.25, 79.55, 79.8, 80.2, (80.6, 78), (81.15, 81.9, 88), (81.45, 72), (82.2, 55), (82.55, 82.75, 90), (82.9, 72), 85.6, 87.9, 88.5, 88.9, 90.35, 92.0, (92.5, 72), 93.5,
               97.86, 98.23, 98.49, 101.65, 102.0, (103.25, 80), 106.43, (107.25, 72), (107.45, 72), (109.05, 110.6, 88), (109.65, 75), 111.85, (112.2, 113.0, 88), (112.5, 72), 113.3, (113.65, 80), 114.15, 114.35, (114.7, 70)]
P3_ORESITROPHE = [76.65, (77.4, 72), 77.7, 78.0, 79.0, 79.25, 79.55, 79.9, 80.2, (80.6, 78), (81.24, 80), 81.55, (81.7, 82.1, 90), (82.2, 55), (82.9, 70), 85.6, 87.9, 88.5, 88.9, 90.35, 92.0, (92.5, 72), 93.5, 93.65, 97.86, 98.23, 98.49,
                  101.65, (103.25, 85), 106.43, (107.25, 72), 108.95, (109.05, 110.6, 92), (109.65, 75), 111.2, 111.35, (111.85, 112.3, 88), (112.7, 72), 113.25, 113.4, 113.65, 114.15, 114.35, (114.7, 70)]

P4_RAMOSUM = [(114.85, 115.0, 88), 116.57, 116.93, 117.05, 117.7, (118.3, 118.5, 88), (120.14, 50), 120.55, 122.6, 123.07, (123.2, 82), 123.5, 124.3, (124.5, 60), (125.45, 85), 125.8, (125.95, 126.2, 90), 126.6, 126.8, (127.0, 127.2, 90), (129.65, 75),
              129.78, 130.35, 138.7, 139.13, 143.2, 143.45, 146.5, 149.72]
P4_SINICUM = [(114.94, 78), 116.57, (117.0, 82), 117.15, 117.6, (118.3, 118.5, 88), 120.0, 120.15, 120.55, (123.07, 75), (123.25, 70), 124.5, (124.75, 124.95, 90), 125.45, 125.67, (125.9, 126.1, 92), 126.6, 127.1, 129.3, (129.6, 72), 129.97, 130.35,
              135.8, (137.73, 75), 138.7, 139.13, 143.2, 143.45, 148.37, (148.98, 72), 153.05]
P4_KAMTSCHATICUM = [(114.9, 115.0, 88), 116.57, (117.0, 117.15, 90), 117.6, 118.35, 118.5, (120.0, 120.1, 40), (119.9, 120.2, 92), 120.7, 123.0, (123.3, 75), 123.5, 124.5, (124.9, 78), 125.1, 125.3, 125.95, 126.6, (127.1, 78), (129.6, 78), 130.35,
                    139.13, 143.45, 148.8]
P4_MACROPHYLLUM = [(114.94, 52), (116.56, 40), 117.0, 117.62, (118.3, 118.5, 88), 119.95, (120.14, 72), 120.5, 122.6, 123.0, (123.15, 72), 123.75, 124.1, 124.5, 125.0, 125.45, 125.67, (125.9, 126.1, 92), 126.55, 126.75, (127.1, 45), 128.05, (129.6, 72), 130.35,
                   134.0, 138.7, (139.03, 80), (140.85, 80), 143.2, 143.45, 147.0, (149.45, 45), (149.35, 149.55, 92), 150.7]
P4_ALTERNIFOLIUM = [(114.98, 55), 116.45, 116.57, 117.0, 117.7, (118.35, 118.5, 90), 119.15, (120.1, 65), 119.95, 120.75, 123.0, 123.15, 123.3, 123.7, 124.1, 124.2, 124.5, 124.8, 125.07, 125.23, 125.45, 125.77, (126.0, 126.2, 90), 126.6, 126.8, (127.0, 127.2, 90),
                    127.6, (129.65, 75), 130.15, 130.35, (134.75, 135.8, 45), 137.75, 138.7, (139.1, 80), 140.65, 143.2, 143.45, 146.5, 147.2, (149.4, 149.5, 45), (149.35, 149.55, 92)]
P4_FLAGELLIFERUM = [(114.9, 115.0, 88), 116.57, (117.0, 117.1, 90), 117.6, (118.35, 118.5, 90), (120.0, 120.3, 90), 120.75, (123.05, 123.2, 45), (122.9, 123.4, 92), 123.8, 124.1, 124.5, 124.8, (125.4, 126.1, 90), (126.5, 126.8, 92), (127.1, 80), 128.95,
                    (129.65, 72), (129.97, 85), 130.35, 138.7, 143.2, 143.45, (149.4, 149.5, 45), (149.35, 149.55, 92)]
P4_SAXIFRAGA = [(114.9, 115.0, 60), (115.0, 115.7, 90), 115.85, 116.25, 116.4, 116.55, 117.0, (117.6, 70), 117.9, 118.3, 118.6, 119.15, 119.35, (119.8, 120.4, 90), (120.15, 72), 120.55, 120.75, (120.95, 121.3, 92), 121.45, 121.85, 122.15, (122.45, 122.95, 90),
                (123.0, 123.2, 45), (122.9, 123.3, 90), 123.5, 123.8, (124.35, 50), 124.15, 124.8, (125.4, 125.7, 86), (125.95, 126.2, 88), (126.45, 127.55, 88), 127.6, 128.1, 128.35, 128.55, 129.6, 130.0, 130.35,
                134.0, 135.15, 137.88, (138.2, 62), 138.4, (138.7, 75), (139.0, 80), 140.75, 142.25, 143.2, 143.45, (143.4, 45), (143.9, 144.4, 40), (144.73, 80), (146.5, 55), 147.25, (147.7, 147.8, 88), (148.35, 148.5, 88), (148.95, 149.1, 88), 150.82]
P4_BERGENIA = [(114.94, 42), 115.25, 115.8, 116.05, 116.25, 116.55, 117.05, (117.65, 78), 118.25, 118.5, 118.8, 119.2, 119.8, 120.0, 120.2, 120.55, 121.0, 121.25, 121.5, (122.85, 124.1, 88), (123.25, 75), 123.65, (124.5, 45), (125.25, 45), 124.3, 124.8, (125.7, 126.05, 92), 126.9, 127.65, (129.4, 75),
               (129.65, 75), (130.38, 75), 135.15, 137.75, 138.25, 138.7, 139.0, 142.25, 143.2, 143.45, 143.6, (144.37, 72), 144.73, 146.5, 147.75, 148.37]
P4_ORESITROPHE = [(114.94, 42), 115.7, 115.9, 116.25, 116.55, (117.65, 78), 118.15, (118.45, 72), 118.7, 119.2, 119.9, (120.15, 65), 120.55, 121.0, 121.25, 121.55, (122.85, 124.0, 88), (123.2, 72), 123.45, 123.75, 124.5, 124.9, (125.55, 72), 126.0, (126.45, 126.85, 90),
                  (127.15, 72), 127.85, (129.65, 75), (130.38, 72), 135.15, 138.25, 138.7, 139.0, 142.25, 143.2, 143.45, 143.6, (144.37, 72), 144.73, 146.5, 147.75, 148.37, 148.8]

P_EXON = [P1_EXON, P2_EXON, P3_EXON, P4_EXON]
P_RNA = [P1_RNA, P2_RNA, P3_RNA, P4_RNA]
P_GENES = [P1_GENES, P2_GENES, P3_GENES, P4_GENES]
P_PLACE = [P1_PLACE, P2_PLACE, P3_PLACE, P4_PLACE]
P_DIPS = [
    [[], P1_RAMOSUM, P1_SINICUM, P1_KAMTSCHATICUM, P1_MACROPHYLLUM, P1_ALTERNIFOLIUM, P1_FLAGELLIFERUM, P1_SAXIFRAGA, P1_BERGENIA, P1_ORESITROPHE],
    [[], P2_RAMOSUM, P2_SINICUM, P2_KAMTSCHATICUM, P2_MACROPHYLLUM, P2_ALTERNIFOLIUM, P2_FLAGELLIFERUM, P2_SAXIFRAGA, P2_BERGENIA, P2_ORESITROPHE],
    [[], P3_RAMOSUM, P3_SINICUM, P3_KAMTSCHATICUM, P3_MACROPHYLLUM, P3_ALTERNIFOLIUM, P3_FLAGELLIFERUM, P3_SAXIFRAGA, P3_BERGENIA, P3_ORESITROPHE],
    [[], P4_RAMOSUM, P4_SINICUM, P4_KAMTSCHATICUM, P4_MACROPHYLLUM, P4_ALTERNIFOLIUM, P4_FLAGELLIFERUM, P4_SAXIFRAGA, P4_BERGENIA, P4_ORESITROPHE],
]

LEGEND_NAMES = ["exon", "tRNA/rRNA", "CNS", "mRNA"]

EXON_COL = "#8C8CFD"
RNA_COL = "#72F7F4"
CNS_COL = "#FF8A8A"
GENE_COL = "#808080"
MRNA_COL = "#C4C4C4"

# page has an 8px body margin
W, H = 3292, 2465
PANEL_TOPS = [278, 853, 1428, 2003]
FRAME_L, FRAME_R = 522, 3114
ROW_STEP = 80  # stacked identity units per row
RISE = 4.8
DIP_W = 0.075  # kb


def px(x):
    return (x - 8) / W


def py(y):
    return 1 - (y - 8) / H


def blocks(spans, y0, y1):
    xs, ys = [], []
    for a, b in spans:
        xs += [a, b, b, a, a, None]
        ys += [y0, y0, y1, y1, y0, None]
    return xs, ys


def row_curve(dips, x0, x1):
    traps = []
    for d in dips:
        if isinstance(d, tuple) and len(d) == 3:
            traps.append(d)
        elif isinstance(d, tuple):
            traps.append((d[0], d[0], d[1]))
        else:
            traps.append((d, d, 90))
    pts = {x0, x1}
    for a, b, _ in traps:
        pts |= {a - DIP_W, a, b, b + DIP_W}
    xs = np.array(sorted(p for p in pts if x0 <= p <= x1))
    ys = np.full(len(xs), 100.0)
    for a, b, p in traps:
        ys = np.minimum(ys, np.interp(xs, [a - DIP_W, a, b + 1e-6, b + DIP_W + 2e-6], [100, p, p, 100]))
    return xs, ys


def mid_segments(xs, ys):
    # the 75% grid line only shows through where the curve has gone below it
    out = []
    start = None
    for i in range(1, len(xs)):
        y0, y1 = ys[i - 1], ys[i]
        if y0 >= 75 > y1:
            start = xs[i - 1] + (xs[i] - xs[i - 1]) * (y0 - 75) / (y0 - y1)
        elif y0 < 75 <= y1 and start is not None:
            out.append((start, xs[i - 1] + (xs[i] - xs[i - 1]) * (75 - y0) / (y1 - y0)))
            start = None
    return out


def arrow_polys(genes, place):
    xs, ys = [], []
    track_y = [-127, -69]
    for (name, a, b), (track, _, _) in zip(genes, place):
        yc = track_y[track]
        ln = b - a
        if ln <= 0.42:
            h = 15 if ln < 0.25 else 11.5
            xs += [a, b, b, a, None]
            ys += [yc, yc - h, yc + h, yc, None]
        else:
            t = a + 0.42
            xs += [a, t, t, b, b, t, t, a, None]
            ys += [yc, yc - 11.5, yc - 6.3, yc - 6.3, yc + 6.3, yc + 6.3, yc + 11.5, yc, None]
    return xs, ys


fig = go.Figure()
layout = {}
label_y = [-158, -99, -41]
pct100 = [9.5, 47, 80, 114, 147, 180, 213, 247, 280, 313.7]
pct50 = [30, 64, 97, 130, 163.6, 197, 230, 264, 297, 334]

for i in range(4):
    top = PANEL_TOPS[i]
    x0, x1 = P_RANGE[i]
    xa, ya, yb = f"x{i + 1}", f"y{i + 1}", f"y{i + 5}"
    v_low = 44 - 9 * ROW_STEP
    v_high = 100 + RISE

    # coloured bands behind the rows
    for spans, col in [([(x0, x1)], CNS_COL), (P_EXON[i], EXON_COL), (P_RNA[i], RNA_COL)]:
        xs, ys = blocks(spans, v_low, v_high)
        fig.add_trace(go.Scatter(x=xs, y=ys, xaxis=xa, yaxis=ya, mode="none", fill="toself", fillcolor=col, hoverinfo="skip"))

    mask_x, mask_y, line_x, line_y, mid_x, mid_y = [], [], [], [], [], []
    for r, dips in enumerate(P_DIPS[i]):
        cx, cy = row_curve(dips, x0, x1)
        off = -ROW_STEP * r
        mask_x += list(cx) + [x1, x0, cx[0], None]
        mask_y += list(cy + off) + [v_high + off, v_high + off, cy[0] + off, None]
        line_x += list(cx) + [None]
        line_y += list(cy + off) + [None]
        for a, b in mid_segments(cx, cy):
            mid_x += [a, b, None]
            mid_y += [75 + off, 75 + off, None]

    fig.add_trace(go.Scatter(x=mask_x, y=mask_y, xaxis=xa, yaxis=ya, mode="none", fill="toself", fillcolor="white", hoverinfo="skip"))
    fig.add_trace(go.Scatter(x=mid_x, y=mid_y, xaxis=xa, yaxis=ya, mode="lines", line=dict(color="black", width=3.5), hoverinfo="skip"))

    # black separators between the rows, thin grey line under them
    sep_x, sep_y, grey_x, grey_y = [], [], [], []
    for r in range(10):
        off = -ROW_STEP * r
        sep_x += [x0, x1, None]
        sep_y += [114.4 + off, 114.4 + off, None]
        grey_x += [x0, x1, None]
        grey_y += [RISE + 100 + off, RISE + 100 + off, None]
    fig.add_trace(go.Scatter(x=line_x, y=line_y, xaxis=xa, yaxis=ya, mode="lines", line=dict(color="black", width=4.2), hoverinfo="skip"))
    fig.add_trace(go.Scatter(x=grey_x, y=grey_y, xaxis=xa, yaxis=ya, mode="lines", line=dict(color="#6E6E6E", width=1.2), hoverinfo="skip"))
    fig.add_trace(go.Scatter(x=sep_x[3:], y=sep_y[3:], xaxis=xa, yaxis=ya, mode="lines", line=dict(color="black", width=8.5), hoverinfo="skip"))

    # track above the frame: blocks, arrows
    for spans, col in [(P_EXON[i], EXON_COL), (P_RNA[i], RNA_COL)]:
        xs, ys = blocks(spans, -33, 0)
        fig.add_trace(go.Scatter(x=xs, y=ys, xaxis=xa, yaxis=yb, mode="none", fill="toself", fillcolor=col, hoverinfo="skip"))
    ax, ay = arrow_polys(P_GENES[i], P_PLACE[i])
    fig.add_trace(go.Scatter(x=ax, y=ay, xaxis=xa, yaxis=yb, mode="none", fill="toself", fillcolor=GENE_COL, hoverinfo="skip"))

    layout[f"xaxis{i + 1}"] = dict(
        domain=[px(FRAME_L), px(FRAME_R)], range=[x0, x1], anchor=ya, automargin=False,
        showgrid=False, zeroline=False, showline=True, linecolor="black", linewidth=8, mirror=True,
        tickmode="array", tickvals=MAJOR_TICKS[i], ticktext=[f"{k}k" for k in MAJOR_TICKS[i]],
        ticks="outside", ticklen=11, tickwidth=3.5, tickcolor="black", ticklabelstandoff=-4,
        tickfont=dict(family="Liberation Serif", size=32, color="black"),
        minor=dict(tickmode="array", tickvals=MINOR_TICKS[i], ticks="outside", ticklen=7, tickwidth=3.5, tickcolor="black", showgrid=False),
    )
    layout[f"yaxis{i + 1}"] = dict(
        domain=[py(top + 334), py(top + 8)], range=[v_low, v_high], anchor=xa, automargin=False,
        showgrid=False, zeroline=False, showticklabels=False, ticks="",
        showline=True, linecolor="black", linewidth=8, mirror=True,
    )
    layout[f"yaxis{i + 5}"] = dict(
        domain=[py(top), py(top - 180)], range=[0, -180], anchor=xa, visible=False, automargin=False,
    )

# full-page overlay axes in reference pixels, for the free-standing texts
layout["xaxis9"] = dict(domain=[0, 1], range=[8, 8 + W], anchor="y9", visible=False, automargin=False)
layout["yaxis9"] = dict(domain=[0, 1], range=[8 + H, 8], anchor="x9", visible=False, automargin=False)


def page_text(xs, ys, texts, family, size, color="black", pos="middle right"):
    fig.add_trace(go.Scatter(
        x=xs, y=ys, text=texts, xaxis="x9", yaxis="y9", mode="text", textposition=pos,
        textfont=dict(family=family, size=size, color=color), cliponaxis=False, hoverinfo="skip",
    ))


# gene labels go on the page axes too: some sit outside their panel's x range
for i, top in enumerate(PANEL_TOPS):
    x0, x1 = P_RANGE[i]
    lx = [FRAME_L + (p[1] - x0) / (x1 - x0) * (FRAME_R - FRAME_L) for p in P_PLACE[i]]
    ly = [top + label_y[p[2]] for p in P_PLACE[i]]
    page_text(lx, ly, [g[0] for g in P_GENES[i]], "Liberation Sans", 33, pos="middle center")

for top in PANEL_TOPS:
    ys = [top + v for v in pct100 + pct50]
    page_text([3127] * len(ys), ys, ["100%"] * 10 + ["50%"] * 10, "Liberation Serif", 13, "#555555")

page_text([130] * 10, [294.5 + 34.15 * r for r in range(10)], [f"<i>{s}</i>" for s in SPECIES], "Liberation Sans", 25)
page_text([183] * 5, [2205, 2238, 2270, 2303, 2337], ["gene"] + LEGEND_NAMES, "Liberation Sans", 37)

# legend swatches
shapes = []
swatch_y = [2222, 2255, 2288, 2322]
for col, sy in zip([EXON_COL, RNA_COL, CNS_COL, MRNA_COL], swatch_y):
    shapes.append(dict(type="rect", xref="paper", yref="paper", x0=px(118), x1=px(147), y0=py(sy + 29), y1=py(sy), fillcolor=col, line_width=0))
arrow_path = (f"M {px(118)} {py(2197)} L {px(130)} {py(2197)} L {px(130)} {py(2192)} L {px(158)} {py(2203)} "
              f"L {px(130)} {py(2214)} L {px(130)} {py(2209)} L {px(118)} {py(2209)} Z")
shapes.append(dict(type="path", xref="paper", yref="paper", path=arrow_path, fillcolor=GENE_COL, line_width=0))

fig.update_layout(
    width=W, height=H, margin=dict(l=0, r=0, t=0, b=0), showlegend=False,
    paper_bgcolor="white", plot_bgcolor="rgba(0,0,0,0)", shapes=shapes, **layout,
)
fig.write_html("out.html")
